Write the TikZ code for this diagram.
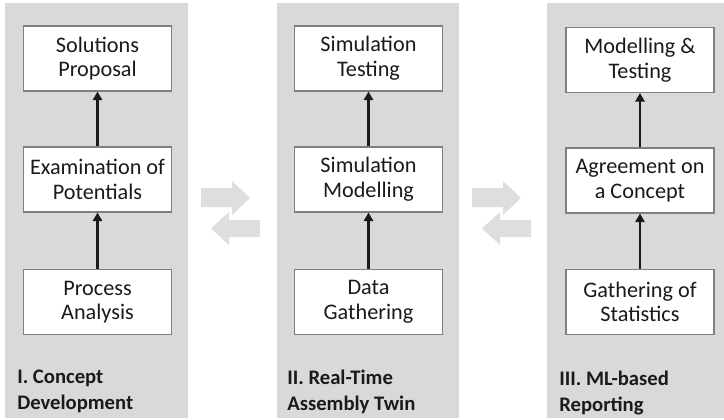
\documentclass[tikz,border=0pt]{standalone}
\usepackage{fontspec}
\setmainfont{Carlito}
\usetikzlibrary{arrows.meta}
\definecolor{panelgray}{HTML}{D9D9D9}
\definecolor{swapgray}{HTML}{DEDEDE}
\definecolor{boxline}{HTML}{7F7F7F}
\definecolor{ink}{HTML}{1A1A1A}
\tikzset{
  phase/.style={fill=panelgray, draw=none},
  swap/.style={fill=swapgray, draw=none},
  stepbox/.style={draw=boxline, fill=white, line width=.8pt, minimum width=3.7cm,
    minimum height=1.625cm, align=center, inner sep=0pt, text=ink,
    font=\fontsize{15.8}{17.5}\selectfont},
  flow/.style={-{Triangle[length=6pt,width=6.5pt]}, line width=1.5pt, ink},
  phasename/.style={align=left, anchor=north west, inner sep=0pt, text=ink,
    font=\fontsize{14.7}{18.5}\selectfont\bfseries}
}

\begin{document}
\begin{tikzpicture}[x=0.025cm, y=-0.025cm]
  \useasboundingbox (0,0) rectangle (724,420);
  % phase panels
  \fill[phase] (5,3) rectangle (188,418);
  \fill[phase] (277,3) rectangle (459,418);
  \fill[phase] (547,3) rectangle (724,418);
  % back and forth arrows between the phases
  \foreach \dx in {0,271} {
    \fill[swap] (201+\dx,188) -- (232+\dx,188) -- (232+\dx,181) -- (250+\dx,198)
      -- (232+\dx,215) -- (232+\dx,207) -- (201+\dx,207) -- cycle;
    \fill[swap] (260+\dx,220) -- (229+\dx,220) -- (229+\dx,212) -- (211+\dx,228.5)
      -- (229+\dx,245) -- (229+\dx,237) -- (260+\dx,237) -- cycle;
  }

  % I. concept development
  \node[stepbox] (cdtop) at (97.5,58.5) {Solutions\\Proposal};
  \node[stepbox] (cdmid) at (97.5,179.5) {Examination of\\Potentials};
  \node[stepbox] (cdlow) at (97.5,302) {Process\\Analysis};
  \draw[flow] (cdlow) -- (cdmid);
  \draw[flow] (cdmid) -- (cdtop);
  \node[phasename] (cdname) at (17,370) {I. Concept\\Development};

  % II. real-time assembly twin
  \node[stepbox] (attop) at (368.5,58.5) {Simulation\\Testing};
  \node[stepbox] (atmid) at (368.5,179.5) {Simulation\\Modelling};
  \node[stepbox] (atlow) at (368.5,302) {Data\\Gathering};
  \draw[flow] (atlow) -- (atmid);
  \draw[flow] (atmid) -- (attop);
  \node[phasename] (atname) at (287,370) {II. Real-Time\\Assembly Twin};

  % III. ML-based reporting
  \node[stepbox] (mltop) at (640,60) {Modelling \&\\Testing};
  \node[stepbox] (mlmid) at (640,180.5) {Agreement on\\a Concept};
  \node[stepbox] (mllow) at (640,302) {Gathering of\\Statistics};
  \draw[flow] (mllow) -- (mlmid);
  \draw[flow] (mlmid) -- (mltop);
  \node[phasename] (mlname) at (559,371) {III. ML-based\\Reporting};
\end{tikzpicture}
\end{document}
